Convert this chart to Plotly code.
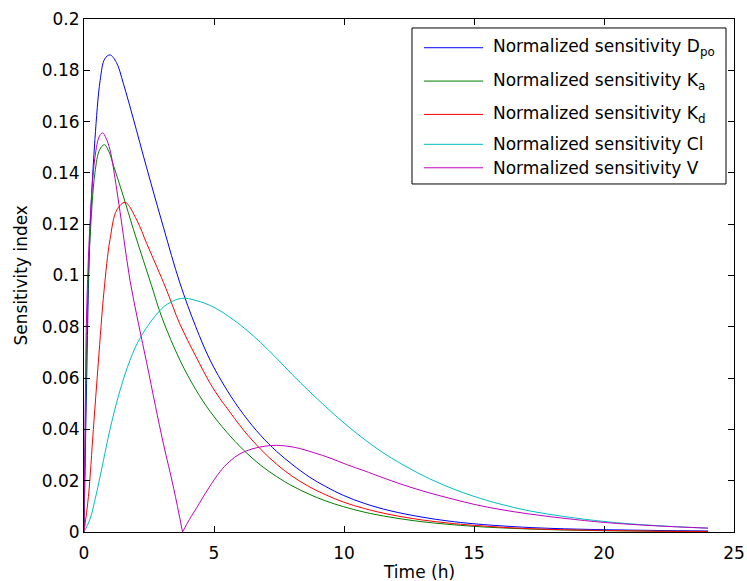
import plotly.graph_objects as go

# ---- data ----
t_dpo = [0, 0.05, 0.1, 0.17, 0.25, 0.42, 0.62, 0.8, 1.0, 1.25, 1.51, 1.9, 2.41, 3.05, 3.69,
         4.3, 4.85, 5.5, 6.13, 6.8, 7.41, 8.0, 8.69, 9.3, 9.97, 10.8, 11.77, 13, 14, 15,
         16.5, 18, 20, 22, 24]
s_dpo = [0, 0.03, 0.058, 0.095, 0.122, 0.153, 0.176, 0.1845, 0.186, 0.183, 0.175, 0.161, 0.142,
         0.119, 0.097, 0.080, 0.067, 0.0553, 0.0459, 0.0376, 0.0314, 0.0264, 0.0213, 0.0177,
         0.0143, 0.0111, 0.0083, 0.0058, 0.0043, 0.0032, 0.0021, 0.0014, 0.0009, 0.0006, 0.0004]

t_ka = [0, 0.05, 0.1, 0.15, 0.23, 0.42, 0.6, 0.78, 0.95, 1.13, 1.51, 1.9, 2.28, 2.6, 3.0, 3.69,
        4.3, 4.85, 5.5, 6.13, 6.8, 7.41, 8.0, 8.69, 9.3, 9.97, 10.8, 11.77, 13, 14, 15, 16.5,
        18, 20, 22, 24]
s_ka = [0, 0.04, 0.072, 0.093, 0.114, 0.140, 0.149, 0.151, 0.1485, 0.143, 0.131, 0.118, 0.106,
        0.096, 0.0835, 0.067, 0.0555, 0.047, 0.0388, 0.032, 0.026, 0.0216, 0.0180, 0.0146,
        0.0121, 0.0099, 0.0077, 0.0058, 0.0040, 0.0030, 0.0022, 0.0014, 0.0009, 0.0005,
        0.0003, 0.0002]

t_kd = [0, 0.17, 0.36, 0.55, 0.77, 1.0, 1.26, 1.58, 2.03, 2.41, 2.8, 3.15, 3.69, 4.3, 4.85,
        5.23, 5.5, 6.13, 6.8, 7.41, 8.0, 8.69, 9.3, 9.97, 10.8, 11.77, 13, 14, 15, 16.5, 18,
        20, 22, 24]
s_kd = [0, 0.0138, 0.040, 0.066, 0.094, 0.114, 0.1255, 0.1285, 0.1216, 0.1125, 0.1034, 0.095,
        0.081, 0.0685, 0.0580, 0.0520, 0.0483, 0.0398, 0.0322, 0.0264, 0.0218, 0.0175, 0.0145,
        0.0117, 0.0091, 0.0068, 0.0047, 0.0035, 0.0026, 0.0016, 0.0010, 0.0006, 0.0003, 0.0002]

t_cl = [0, 0.23, 0.5, 0.75, 1.0, 1.38, 1.77, 2.15, 2.8, 3.2, 3.75, 4.3, 5.0, 5.6, 6.2, 6.8,
        7.4, 8.0, 8.7, 9.3, 10.0, 10.7, 11.4, 12.3, 13.3, 14.2, 15.0, 16.0, 17.15, 18.5,
        20.0, 22, 24]
s_cl = [0, 0.005, 0.016, 0.028, 0.040, 0.055, 0.067, 0.0755, 0.085, 0.0888, 0.0911, 0.0903,
        0.0876, 0.0838, 0.0792, 0.0738, 0.0678, 0.0615, 0.0545, 0.0488, 0.0425, 0.0368, 0.0316,
        0.0260, 0.0207, 0.0168, 0.0139, 0.0109, 0.0082, 0.0060, 0.0041, 0.0025, 0.0015]

t_v = [0, 0.05, 0.1, 0.23, 0.42, 0.6, 0.72, 0.85, 1.0, 1.26, 1.51, 1.77, 2.1, 2.41, 2.75,
       3.05, 3.45, 3.79, 4.05, 4.33, 4.8, 5.23, 5.6, 6.0, 6.5, 7.0, 7.41, 8.1, 8.82, 9.5,
       10.1, 10.8, 11.38, 12.3, 13.3, 14.2, 15.04, 16.0, 17.15, 18.5, 20.04, 22, 24]
s_v = [0, 0.05, 0.085, 0.120, 0.146, 0.1545, 0.1556, 0.1535, 0.149, 0.1335, 0.116, 0.098,
       0.081, 0.066, 0.049, 0.0346, 0.017, 0, 0.0048, 0.0094, 0.0172, 0.0235, 0.0275, 0.0305,
       0.0325, 0.0335, 0.0338, 0.0330, 0.0310, 0.0287, 0.0263, 0.0238, 0.0216, 0.0183, 0.0152,
       0.0128, 0.0107, 0.0088, 0.0070, 0.0053, 0.0037, 0.0024, 0.0015]

names = ["Normalized sensitivity D<sub>po</sub>", "Normalized sensitivity K<sub>a</sub>",
         "Normalized sensitivity K<sub>d</sub>", "Normalized sensitivity Cl",
         "Normalized sensitivity V"]
colors = ["rgb(0,0,255)", "rgb(0,128,0)", "rgb(255,0,0)", "rgb(0,191,191)", "rgb(191,0,191)"]

x_ticks = [0, 5, 10, 15, 20, 25]
y_ticks = [0, 0.02, 0.04, 0.06, 0.08, 0.1, 0.12, 0.14, 0.16, 0.18, 0.2]
y_ticktext = ["0", "0.02", "0.04", "0.06", "0.08", "0.1", "0.12", "0.14", "0.16", "0.18", "0.2"]
x_title = "Time (h)"
y_title = "Sensitivity index"

FONT = "DejaVu Sans, Arial, sans-serif"

fig = go.Figure()
data = [(t_dpo, s_dpo), (t_ka, s_ka), (t_kd, s_kd), (t_cl, s_cl)]
for (t, s), name, col in zip(data, names[:4], colors[:4]):
    fig.add_trace(go.Scatter(x=t, y=s, mode="lines", name=name,
                             line=dict(color=col, width=1, shape="spline", smoothing=1.0),
                             showlegend=False))

# V curve has a sharp cusp at its zero crossing: draw both branches from the same arrays
iz = s_v.index(0, 1)
for seg in (slice(0, iz + 1), slice(iz, None)):
    fig.add_trace(go.Scatter(x=t_v[seg], y=s_v[seg], mode="lines", name=names[4],
                             line=dict(color=colors[4], width=1, shape="spline", smoothing=1.0),
                             showlegend=False))

# Manual MATLAB-style legend
leg_rows_y = [0.944, 0.879, 0.814, 0.7557, 0.710]
shapes = [dict(type="rect", xref="paper", yref="paper", x0=0.5046, x1=0.9877, y0=0.6784,
               y1=0.9825, line=dict(color="black", width=1), fillcolor="white", layer="above")]
annotations = []
for name, col, yy in zip(names, colors, leg_rows_y):
    shapes.append(dict(type="line", xref="paper", yref="paper", x0=0.523, x1=0.614, y0=yy, y1=yy,
                       line=dict(color=col, width=1), layer="above"))
    annotations.append(dict(xref="paper", yref="paper", x=0.6257, y=yy, text=name,
                            showarrow=False, xanchor="left", yanchor="middle",
                            font=dict(family=FONT, size=17, color="black")))

# Axis titles (placed like the MATLAB original; x title is partly clipped by the page edge)
annotations.append(dict(xref="paper", yref="paper", x=0.516, y=0, yshift=-40, text=x_title,
                        showarrow=False, xanchor="center", yanchor="middle",
                        font=dict(family=FONT, size=17, color="black")))
annotations.append(dict(xref="paper", yref="paper", x=0, xshift=-64, y=0.5, text=y_title,
                        textangle=-90, showarrow=False, xanchor="center", yanchor="middle",
                        font=dict(family=FONT, size=17, color="black")))

fig.update_layout(
    width=747, height=581,
    margin=dict(l=84, r=13, t=19, b=49),
    paper_bgcolor="white", plot_bgcolor="white",
    font=dict(family=FONT, size=17, color="black"),
    shapes=shapes, annotations=annotations,
    xaxis=dict(range=[0, 25], tickvals=x_ticks, ticks="inside", ticklen=6, tickcolor="black",
               showline=True, linecolor="black", linewidth=1, mirror="ticks", showgrid=False,
               zeroline=False, ticklabelstandoff=6, automargin=False,
               tickfont=dict(size=17)),
    yaxis=dict(range=[0, 0.2], tickvals=y_ticks, ticktext=y_ticktext, ticks="inside", ticklen=6,
               tickcolor="black", showline=True, linecolor="black", linewidth=1, mirror="ticks",
               showgrid=False, zeroline=False, automargin=False,
               tickfont=dict(size=17)),
)

fig.write_html("out.html")
